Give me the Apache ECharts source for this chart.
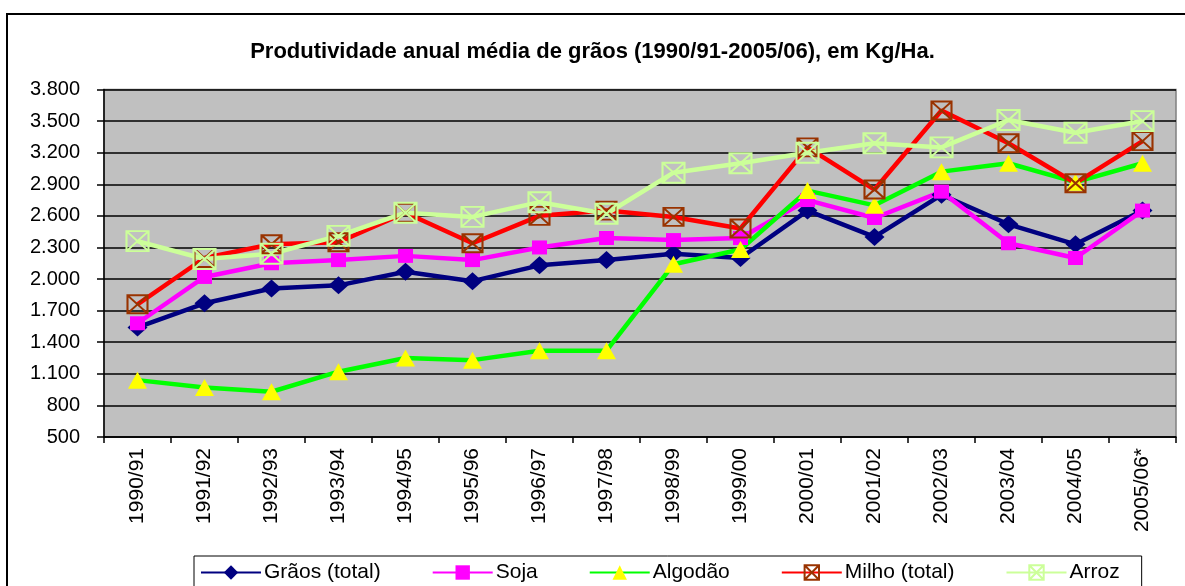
<!DOCTYPE html>
<html>
<head>
<meta charset="utf-8">
<script src="https://cdn.jsdelivr.net/npm/echarts@6/dist/echarts.min.js"></script>
<style>
  html, body { margin: 0; padding: 0; background: #fff; }
  #main { width: 1185px; height: 586px; }
</style>
</head>
<body>
<div id="main"></div>
<script>
const safras = ['1990/91', '1991/92', '1992/93', '1993/94', '1994/95', '1995/96', '1996/97', '1997/98',
    '1998/99', '1999/00', '2000/01', '2001/02', '2002/03', '2003/04', '2004/05', '2005/06*']

const graos = [1540, 1770, 1910, 1940, 2070, 1980, 2130, 2180, 2240, 2200, 2650, 2400, 2800, 2520, 2330, 2650]
const soja = [1580, 2020, 2150, 2180, 2220, 2180, 2300, 2390, 2370, 2390, 2750, 2580, 2830, 2340, 2200, 2650]
const algodao = [1040, 970, 930, 1120, 1250, 1230, 1320, 1320, 2140, 2280, 2840, 2700, 3020, 3100, 2920, 3100]
const milho = [1760, 2200, 2330, 2350, 2630, 2340, 2600, 2650, 2590, 2480, 3250, 2850, 3600, 3290, 2910, 3310]
const arroz = [2360, 2190, 2240, 2410, 2630, 2590, 2730, 2620, 3010, 3100, 3200, 3290, 3250, 3510, 3390, 3500]

const yTicks = { min: 500, max: 3800, step: 300 }

const fonte = 'Liberation Sans, Arial, sans-serif'
const caixaX = 'path://M0,0L20,0L20,20L0,20Z M0,0L20,20 M20,0L0,20'

const myChart = echarts.init(document.getElementById('main'))

function linha(name, data, color, symbol, size, marker) {
    return {
        name,
        type: 'line',
        data,
        symbol,
        symbolSize: size,
        showAllSymbol: true,
        lineStyle: { color, width: 4.5 },
        itemStyle: marker,
        emphasis: { disabled: true },
        animation: false
    }
}

const option = {
    backgroundColor: '#fff',
    textStyle: { fontFamily: fonte },
    graphic: [{
        type: 'rect',
        shape: { x: 7, y: 14, width: 1200, height: 600 },
        style: { fill: 'none', stroke: '#000', lineWidth: 2 },
        silent: true
    }],
    title: {
        text: 'Produtividade anual média de grãos (1990/91-2005/06), em Kg/Ha.',
        left: 'center',
        top: 36,
        textStyle: { fontFamily: fonte, fontSize: 22, fontWeight: 'bold', color: '#000' }
    },
    legend: {
        left: 194,
        top: 556,
        width: 960,
        padding: [6, 22, 8, 6],
        itemGap: 51,
        itemWidth: 60,
        itemHeight: 18,
        backgroundColor: '#fff',
        borderColor: '#000',
        borderWidth: 1,
        textStyle: { fontFamily: fonte, fontSize: 21, color: '#000', padding: [0, 0, 0, -2] },
        data: ['Grãos (total)', 'Soja', 'Algodão', 'Milho (total)', 'Arroz']
    },
    grid: {
        left: 104,
        right: 9,
        top: 89.5,
        bottom: 149,
        show: true,
        backgroundColor: '#C0C0C0',
        borderColor: '#808080',
        borderWidth: 1.5
    },
    xAxis: {
        type: 'category',
        data: safras,
        boundaryGap: true,
        axisLine: { lineStyle: { color: '#000', width: 1.5 } },
        axisTick: { show: true, inside: false, length: 6, lineStyle: { color: '#000', width: 1.5 } },
        axisLabel: { rotate: 90, margin: 11, fontSize: 21, color: '#000', fontFamily: fonte, interval: 0 }
    },
    yAxis: {
        type: 'value',
        min: yTicks.min,
        max: yTicks.max,
        interval: yTicks.step,
        axisLine: { show: true, lineStyle: { color: '#000', width: 1.5 } },
        axisTick: { show: true, inside: false, length: 7, lineStyle: { color: '#000', width: 1.5 } },
        axisLabel: {
            margin: 24,
            fontSize: 20,
            color: '#000',
            fontFamily: fonte,
            formatter: v => String(v).replace(/\B(?=(\d{3})+(?!\d))/g, '.')
        },
        splitLine: { show: true, lineStyle: { color: '#000', width: 1.5 } }
    },
    series: [
        linha('Grãos (total)', graos, '#000080', 'diamond', [20, 18], { color: '#000080' }),
        linha('Soja', soja, '#FF00FF', 'rect', [15, 14], { color: '#FF00FF' }),
        linha('Algodão', algodao, '#00FF00', 'triangle', [19, 17], { color: '#FFFF00' }),
        linha('Milho (total)', milho, '#FF0000', caixaX, [20, 18],
            { color: 'transparent', borderColor: '#993300', borderWidth: 2 }),
        linha('Arroz', arroz, '#CCFF99', caixaX, [22, 20],
            { color: 'transparent', borderColor: '#CCFF99', borderWidth: 2 })
    ]
}

myChart.setOption(option)
</script>
</body>
</html>
